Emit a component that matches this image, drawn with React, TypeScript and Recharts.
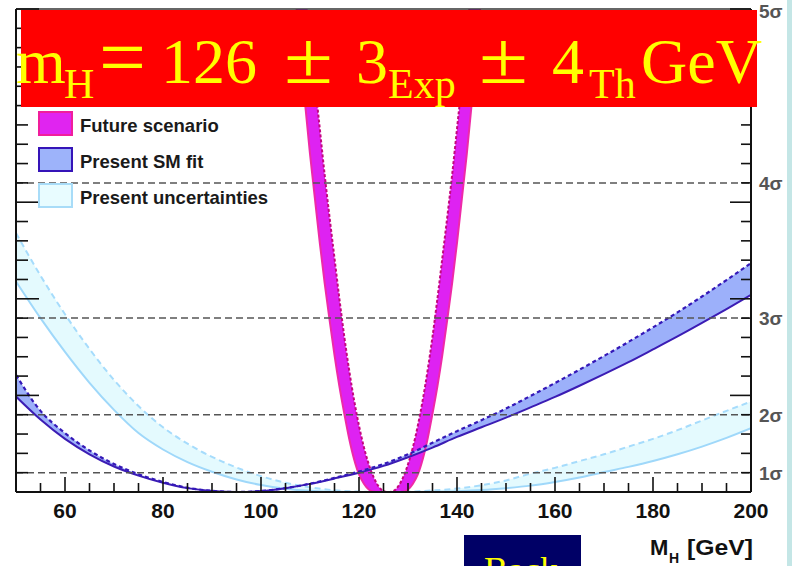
import React from 'react'
import { Area, ComposedChart, Line, ReferenceLine, XAxis, YAxis } from 'recharts'

// Delta chi^2 versus Higgs mass.
const MASS = [50, 55, 60, 65, 70, 75, 80, 85, 90, 95, 100, 105, 110, 115, 120, 125, 130, 135, 140, 145, 150, 155, 160, 165, 170, 175, 180, 185, 190, 195, 200]
const SM_FIT_LOW = [4.94, 3.75, 2.75, 1.95, 1.32, 0.85, 0.48, 0.2, 0.05, 0, 0.05, 0.2, 0.42, 0.7, 1.0, 1.35, 1.8, 2.3, 2.85, 3.35, 3.85, 4.38, 4.92, 5.5, 6.1, 6.72, 7.38, 8.05, 8.75, 9.47, 10.2]
const SM_FIT_HIGH = [6.06, 4.2, 3.05, 2.15, 1.45, 0.92, 0.52, 0.22, 0.06, 0, 0.05, 0.2, 0.43, 0.73, 1.06, 1.45, 1.95, 2.55, 3.15, 3.72, 4.32, 4.97, 5.64, 6.33, 7.04, 7.77, 8.52, 9.3, 10.12, 10.97, 11.85]
const UNCERT_LOW = [10.9, 9.0, 7.25, 5.65, 4.25, 3.05, 2.2, 1.55, 1.05, 0.65, 0.36, 0.17, 0.06, 0.01, 0, 0, 0, 0.01, 0.04, 0.1, 0.2, 0.33, 0.52, 0.75, 1.03, 1.3, 1.6, 1.95, 2.35, 2.8, 3.3]
const UNCERT_HIGH = [13.4, 11.2, 9.2, 7.4, 5.8, 4.45, 3.35, 2.5, 1.82, 1.27, 0.82, 0.48, 0.24, 0.09, 0.02, 0, 0.02, 0.08, 0.18, 0.35, 0.6, 0.95, 1.25, 1.6, 1.95, 2.35, 2.75, 3.2, 3.7, 4.2, 4.68]

const FUTURE_MASS = [106, 107, 108, 109, 110, 111, 112, 113, 114, 115, 116, 117, 118, 119, 120, 121, 122, 123, 124, 125, 126, 127, 128, 129, 130, 131, 132, 133, 134, 135, 136, 137, 138, 139, 140, 141, 142, 143, 144, 145, 146]
const FUTURE_LOW = [28.8, 25.8, 22.9, 20.1, 17.5, 15.2, 12.9, 10.8, 8.9, 7.08, 5.47, 4.06, 2.76, 1.7, 0.91, 0.43, 0.13, 0.01, 0, 0, 0, 0, 0, 0.01, 0.13, 0.43, 0.91, 1.7, 2.76, 4.06, 5.47, 7.08, 8.9, 10.8, 12.9, 15.2, 17.5, 20.1, 22.9, 25.8, 28.8]
const FUTURE_HIGH = [35, 32, 29.2, 26.4, 23.7, 21.2, 18.8, 16.4, 14.2, 12.1, 10.0, 8.04, 6.29, 4.75, 3.43, 2.32, 1.43, 0.76, 0.29, 0.05, 0, 0.05, 0.29, 0.76, 1.43, 2.32, 3.43, 4.75, 6.29, 8.04, 10.0, 12.1, 14.2, 16.4, 18.8, 21.2, 23.7, 26.4, 29.2, 32, 35]

const X_TICKS = [50, 55, 60, 65, 70, 75, 80, 85, 90, 95, 100, 105, 110, 115, 120, 125, 130, 135, 140, 145, 150, 155, 160, 165, 170, 175, 180, 185, 190, 195, 200]
const Y_TICKS = [0, 1, 2, 3, 4, 5, 6, 7, 8, 9, 10, 11, 12, 13, 14, 15, 16, 17, 18, 19, 20, 21, 22, 23, 24, 25]
const SIGMA_LEVELS = [1, 4, 9, 16]
const SIGMA_LABELS: Record<number, string> = { 1: '1σ', 4: '2σ', 9: '3σ', 16: '4σ', 25: '5σ' }

const LEGEND = [
  { label: 'Future scenario', fill: '#e024f0', border: '#f01e9c' },
  { label: 'Present SM fit', fill: '#9db3fa', border: '#3514b8' },
  { label: 'Present uncertainties', fill: '#e8fcff', border: '#a8dcf8' },
]

const band = (xs: number[], lo: number[], hi: number[]) => xs.map((m, i) => ({ m, lo: lo[i], hi: hi[i] }))
const smData = band(MASS, SM_FIT_LOW, SM_FIT_HIGH)
const uncertData = band(MASS, UNCERT_LOW, UNCERT_HIGH)
const futureData = band(FUTURE_MASS, FUTURE_LOW, FUTURE_HIGH)

const SANS = '"Liberation Sans", Arial, Helvetica, sans-serif'
const SERIF = '"Liberation Serif", "Times New Roman", serif'

function XTick({ x, y, payload }: any) {
  const v = payload.value
  const major = v % 20 === 0
  return (
    <g>
      <line x1={x} x2={x} y1={y} y2={y - (major ? 15 : 9)} stroke="#111" strokeWidth={1.6} />
      {major && v > 50 && (
        <text x={x} y={y + 26} textAnchor="middle" fontFamily={SANS} fontWeight="bold" fontSize={21} fill="#111">
          {v}
        </text>
      )}
    </g>
  )
}

function LeftTick({ x, y, payload }: any) {
  const major = payload.value % 5 === 0
  return <line x1={x} x2={x + (major ? 23 : 12)} y1={y} y2={y} stroke="#111" strokeWidth={1.6} />
}

function RightTick({ x, y, payload }: any) {
  const v = payload.value
  const major = v % 5 === 0
  const label = SIGMA_LABELS[v]
  return (
    <g>
      <line x1={x} x2={x - (major ? 21 : 10)} y1={y} y2={y} stroke="#111" strokeWidth={1.6} />
      {label && (
        <text x={x + 8} y={y + (v === 25 ? 9 : 7)} fontFamily={SANS} fontWeight="bold" fontSize={19} fill="#555">
          {label}
        </text>
      )}
    </g>
  )
}

export default function App() {
  const range = (d: { lo: number; hi: number }) => [d.lo, d.hi]
  return (
    <div style={{ position: 'absolute', left: 0, top: 0, width: 792, height: 566, overflow: 'hidden', background: '#fff' }}>
      <ComposedChart width={792} height={566} margin={{ top: 9, right: 0, bottom: 44, left: 0 }}>
        <XAxis
          type="number"
          dataKey="m"
          domain={[50, 200]}
          ticks={X_TICKS}
          interval={0}
          allowDataOverflow
          height={30}
          tickSize={0}
          tickMargin={0}
          tickLine={false}
          tick={(p: any) => <XTick {...p} />}
          axisLine={{ stroke: '#111', strokeWidth: 2 }}
        />
        <YAxis
          yAxisId="l"
          type="number"
          domain={[0, 25]}
          ticks={Y_TICKS}
          interval={0}
          allowDataOverflow
          width={16}
          tickSize={0}
          tickMargin={0}
          tickLine={false}
          tick={(p: any) => <LeftTick {...p} />}
          axisLine={{ stroke: '#111', strokeWidth: 2 }}
        />
        <YAxis
          yAxisId="r"
          orientation="right"
          type="number"
          domain={[0, 25]}
          ticks={Y_TICKS}
          interval={0}
          allowDataOverflow
          width={41}
          tickSize={0}
          tickMargin={0}
          tickLine={false}
          tick={(p: any) => <RightTick {...p} />}
          axisLine={{ stroke: '#111', strokeWidth: 2 }}
        />

        <Area yAxisId="l" data={uncertData} dataKey={range} type="monotone" fill="#e4fafe" fillOpacity={1} stroke="none" isAnimationActive={false} />
        <Line yAxisId="r" data={uncertData} dataKey="lo" type="monotone" stroke="#9fd8fa" strokeWidth={2} dot={false} activeDot={false} isAnimationActive={false} />
        <Line yAxisId="r" data={uncertData} dataKey="hi" type="monotone" stroke="#a6dcfc" strokeWidth={2} strokeDasharray="6 4" dot={false} activeDot={false} isAnimationActive={false} />

        <Area yAxisId="l" data={futureData} dataKey={range} type="monotone" fill="#de22f2" fillOpacity={1} stroke="none" isAnimationActive={false} />
        <Line yAxisId="r" data={futureData} dataKey="lo" type="monotone" stroke="#ee2aa8" strokeWidth={2} dot={false} activeDot={false} isAnimationActive={false} />
        <Line yAxisId="r" data={futureData} dataKey="hi" type="monotone" stroke="#c4087e" strokeWidth={2} strokeDasharray="3 2" dot={false} activeDot={false} isAnimationActive={false} />

        <Area yAxisId="l" data={smData} dataKey={range} type="monotone" fill="#9cb0fa" fillOpacity={1} stroke="none" isAnimationActive={false} />
        <Line yAxisId="r" data={smData} dataKey="lo" type="monotone" stroke="#3b1cb4" strokeWidth={2} dot={false} activeDot={false} isAnimationActive={false} />
        <Line yAxisId="r" data={smData} dataKey="hi" type="monotone" stroke="#3418b8" strokeWidth={2.2} strokeDasharray="4 3" dot={false} activeDot={false} isAnimationActive={false} />

        {SIGMA_LEVELS.map((v) => (
          <ReferenceLine key={v} yAxisId="l" y={v} stroke="#555" strokeWidth={1.5} strokeDasharray="7 4" />
        ))}
        <ReferenceLine yAxisId="l" y={25} stroke="#333" strokeWidth={1.5} />
      </ComposedChart>

      {/* legend */}
      {LEGEND.map((item, i) => (
        <div key={item.label}>
          <div
            style={{
              position: 'absolute',
              left: 38,
              top: 111 + i * 36,
              width: 31,
              height: 21,
              background: item.fill,
              border: `2px solid ${item.border}`,
            }}
          />
          <div
            style={{
              position: 'absolute',
              left: 80,
              top: 112.5 + i * 36,
              height: 25,
              lineHeight: '25px',
              fontFamily: SANS,
              fontWeight: 'bold',
              fontSize: 18.5,
              color: '#1a1a1a',
              whiteSpace: 'nowrap',
            }}
          >
            {item.label}
          </div>
        </div>
      ))}

      {/* title banner */}
      <svg width={792} height={120} style={{ position: 'absolute', left: 0, top: 0 }}>
        <rect x={21} y={10} width={736} height={97} fill="#ff0000" />
        <g fontFamily={SERIF} fill="#ffff00">
          <text x={16} y={83} fontSize={64}>m</text>
          <text x={64} y={98} fontSize={42}>H</text>
          <text x={99} y={86} fontSize={84} textLength={47} lengthAdjust="spacingAndGlyphs">=</text>
          <text x={161} y={83} fontSize={64}>126</text>
          <text x={284} y={83} fontSize={74} textLength={49} lengthAdjust="spacingAndGlyphs">±</text>
          <text x={356} y={83} fontSize={64}>3</text>
          <text x={388} y={98} fontSize={42}>Exp</text>
          <text x={479} y={83} fontSize={74} textLength={49} lengthAdjust="spacingAndGlyphs">±</text>
          <text x={552} y={83} fontSize={64}>4</text>
          <text x={589} y={98} fontSize={42}>Th</text>
          <text x={641} y={83} fontSize={64}>GeV</text>
        </g>
      </svg>

      {/* axis title */}
      <svg width={160} height={40} style={{ position: 'absolute', left: 640, top: 530 }}>
        <g fontFamily={SANS} fontWeight="bold" fill="#111">
          <text x={10} y={25} fontSize={22}>M</text>
          <text x={29} y={33} fontSize={14}>H</text>
          <text x={47} y={25} fontSize={22} textLength={66} lengthAdjust="spacingAndGlyphs">[GeV]</text>
        </g>
      </svg>

      {/* back button */}
      <div style={{ position: 'absolute', left: 464, top: 535, width: 117, height: 40, background: '#000066', overflow: 'hidden' }}>
        <div style={{ position: 'absolute', left: 20, top: 17, fontFamily: SERIF, fontSize: 36, lineHeight: '36px', color: '#ffff00' }}>Back</div>
      </div>

      <div style={{ position: 'absolute', left: 787, top: 0, width: 5, height: 566, background: '#c4e6e6' }} />
    </div>
  )
}
